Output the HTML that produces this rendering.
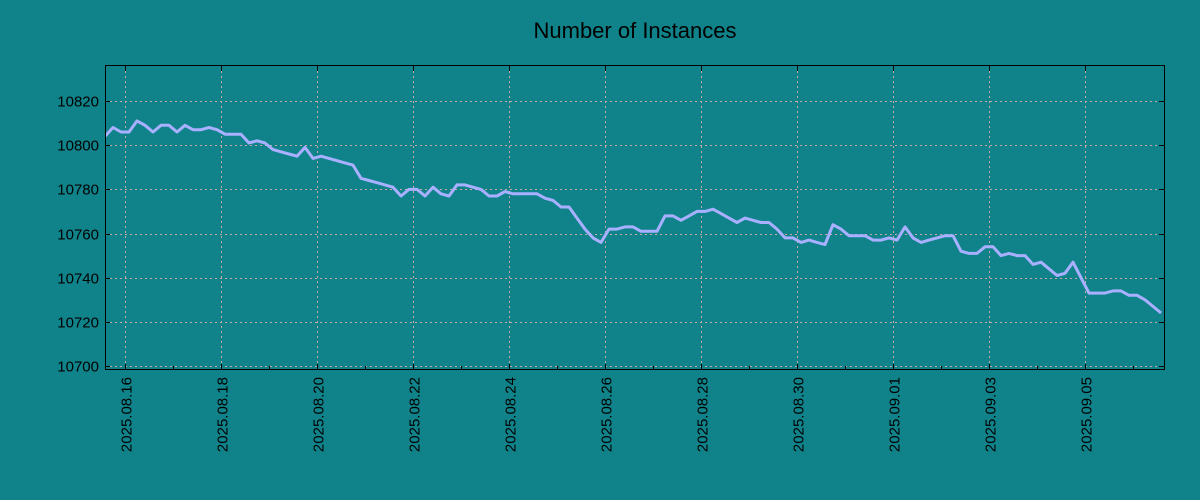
<!DOCTYPE html>
<html><head><meta charset="utf-8"><style>
html,body{margin:0;padding:0;background:#10838a;}
svg{display:block;font-family:"Liberation Sans","DejaVu Sans",sans-serif;}
</style></head><body>
<svg id="chart" width="1200" height="500">
<rect x="0" y="0" width="1200" height="500" fill="#10838a"/>
<text x="635" y="38" text-anchor="middle" font-size="22" fill="#000">Number of Instances</text>
<g id="grid"></g><g id="axes"></g><g id="series"></g>
<rect x="105.5" y="65.5" width="1059" height="304" fill="none" stroke="#000" stroke-width="1"/>
</svg>
<script>
const values=[10804,10808,10806,10806,10811,10809,10806,10809,10809,10806,10809,10807,10807,10808,10807,10805,10805,10805,10801,10802,10801,10798,10797,10796,10795,10799,10794,10795,10794,10793,10792,10791,10785,10784,10783,10782,10781,10777,10780,10780,10777,10781,10778,10777,10782,10782,10781,10780,10777,10777,10779,10778,10778,10778,10778,10776,10775,10772,10772,10767,10762,10758,10756,10762,10762,10763,10763,10761,10761,10761,10768,10768,10766,10768,10770,10770,10771,10769,10767,10765,10767,10766,10765,10765,10762,10758,10758,10756,10757,10756,10755,10764,10762,10759,10759,10759,10757,10757,10758,10757,10763,10758,10756,10757,10758,10759,10759,10752,10751,10751,10754,10754,10750,10751,10750,10750,10746,10747,10744,10741,10742,10747,10740,10733,10733,10733,10734,10734,10732,10732,10730,10727,10724];
const startHour=-10, stepHours=4;
const yTicks=[10700,10720,10740,10760,10780,10800,10820];
const xTickLabels=["2025.08.16","2025.08.18","2025.08.20","2025.08.22","2025.08.24","2025.08.26","2025.08.28","2025.08.30","2025.09.01","2025.09.03","2025.09.05"];
const xTickDays=[0,2,4,6,8,10,12,14,16,18,20];
const NS="http://www.w3.org/2000/svg";
const L=105,R=1164,T=66,B=369;
function xScale(h){return 125+h*2;}
function yScale(v){return 366-(v-10700)*2.208;}
function mk(tag,attrs,parent){const e=document.createElementNS(NS,tag);for(const k in attrs)e.setAttribute(k,attrs[k]);parent.appendChild(e);return e;}
const grid=document.getElementById('grid'),axes=document.getElementById('axes'),series=document.getElementById('series');
yTicks.forEach(v=>{const y=Math.round(yScale(v))+0.5;
 const g=mk('line',{x1:L,x2:R,y1:y,y2:y,stroke:'#c8a8a0','stroke-dasharray':'2,3','stroke-width':1},grid);
 
 
 const t1=mk('line',{x1:L,x2:L+5,y1:y,y2:y,stroke:'#000'},axes);
 
 
 const t2=mk('line',{x1:R-5,x2:R,y1:y,y2:y,stroke:'#000'},axes);
 
 
 const tx=mk('text',{x:99,y:y+5,'text-anchor':'end','font-size':15,fill:'#000'},axes);
 tx.textContent=v;
 
 
});
xTickDays.forEach((d,i)=>{const x=Math.round(xScale(d*24))+0.5;
 const g=mk('line',{x1:x,x2:x,y1:T,y2:B,stroke:'#c8a8a0','stroke-dasharray':'2,3','stroke-width':1},grid);
 
 
 const t1=mk('line',{x1:x,x2:x,y1:B-5,y2:B,stroke:'#000'},axes);
 
 
 const t2=mk('line',{x1:x,x2:x,y1:T,y2:T+5,stroke:'#000'},axes);
 
 
 const tx=mk('text',{x:0,y:0,'text-anchor':'end','font-size':15,fill:'#000',transform:`translate(${x+6},377) rotate(-90)`},axes);
 tx.textContent=xTickLabels[i];
 
 
});
// minor ticks every day
for(let d=-0;d<=21;d++){if(d%2===0)continue;const x=Math.round(xScale(d*24))+0.5;
 const m=mk('line',{x1:x,x2:x,y1:B-3,y2:B,stroke:'#000'},axes);
 
 
}
const cp=mk('clipPath',{id:'clip'},series);
mk('rect',{x:L,y:T,width:R-L,height:B-T},cp);
const pts=values.map((v,i)=>xScale(startHour+i*stepHours).toFixed(1)+','+yScale(v).toFixed(1)).join(' ');
const line=mk('polyline',{points:pts,fill:'none',stroke:'#a8b0ff','stroke-width':3,'stroke-linejoin':'round','clip-path':'url(#clip)'},series);


</script>
</body></html>
